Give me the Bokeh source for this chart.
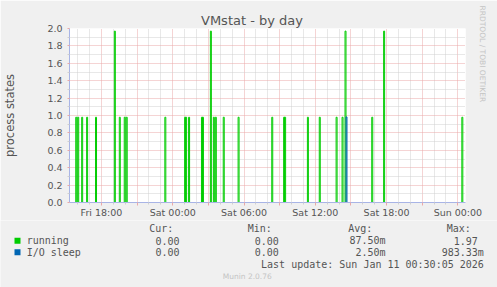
import pandas as pd
from bokeh.plotting import figure
from bokeh.layouts import column, row
from bokeh.models import FixedTicker, Range1d, PrintfTickFormatter, Title
from bokeh.core.properties import value
from bokeh.embed import file_html
from bokeh.resources import INLINE

# ---------------- data ----------------
title_text = "VMstat - by day"
y_label = "process states"
side_text = "RRDTOOL / TOBI OETIKER"
footer_text = "Munin 2.0.76"
last_update = "Last update: Sun Jan 11 00:30:05 2026"

series_names = ["running", "I/O sleep"]
series_colors = ["#00CC00", "#0066B3"]

# 5-minute samples that are not zero (time, value)
running_times = [
    "2026-01-09 15:50", "2026-01-09 16:00", "2026-01-09 16:20", "2026-01-09 16:45",
    "2026-01-09 17:30", "2026-01-09 19:05", "2026-01-09 19:30", "2026-01-09 19:55",
    "2026-01-09 20:05", "2026-01-09 23:20", "2026-01-10 01:00", "2026-01-10 01:05",
    "2026-01-10 01:20", "2026-01-10 02:25", "2026-01-10 02:30", "2026-01-10 03:10",
    "2026-01-10 03:25", "2026-01-10 03:35", "2026-01-10 04:15", "2026-01-10 05:30",
    "2026-01-10 08:20", "2026-01-10 09:20", "2026-01-10 09:25", "2026-01-10 11:20",
    "2026-01-10 12:20", "2026-01-10 13:45", "2026-01-10 14:15", "2026-01-10 14:30",
    "2026-01-10 16:45", "2026-01-10 17:45", "2026-01-11 00:20",
]
running_values = [
    0.98, 0.98, 0.98, 0.98,
    0.98, 1.97, 0.98, 0.98,
    0.98, 0.98, 0.98, 0.98,
    0.98, 0.98, 0.98, 1.97,
    0.98, 0.98, 0.98, 0.98,
    0.98, 0.98, 0.98, 0.98,
    0.98, 0.98, 0.98, 1.97,
    0.98, 1.97, 0.98,
]
io_times = ["2026-01-10 14:35"]
io_values = [0.98333]

x_start = "2026-01-09 15:18:30"
x_end = "2026-01-11 00:38:30"
x_label_times = ["2026-01-09 18:00", "2026-01-10 00:00", "2026-01-10 06:00",
                 "2026-01-10 12:00", "2026-01-10 18:00", "2026-01-11 00:00"]
x_tick_labels = ["Fri 18:00", "Sat 00:00", "Sat 06:00", "Sat 12:00", "Sat 18:00", "Sun 00:00"]
y_ticks = [0.0, 0.2, 0.4, 0.6, 0.8, 1.0, 1.2, 1.4, 1.6, 1.8, 2.0]
y_minor = [0.1, 0.3, 0.5, 0.7, 0.9, 1.1, 1.3, 1.5, 1.7, 1.9]

legend_cur = ["0.00", "0.00"]
legend_min = ["0.00", "0.00"]
legend_avg = ["87.50m", "2.50m"]
legend_max = ["1.97", "983.33m"]

# ---------------- helpers ----------------
def ms(s):
    return int(pd.Timestamp(s).value // 10**6)

STEP = 5 * 60 * 1000

def spikes(times, vals):
    xs, ys = [], []
    for t, v in zip(times, vals):
        t0 = ms(t)
        xs.append([t0, t0, t0 + STEP, t0 + STEP])
        ys.append([0, v, v, 0])
    return xs, ys

FONT = "DejaVu Sans"
MONO = "DejaVu Sans Mono"
TXT = "#555555"
BG = "#F0F0F0"
AXIS = "#A8B4E6"
MGRID = "#EBA8A8"
GRID = "#D0D0D0"

W = 497
MAIN_H = 220
LEG_H = 287 - MAIN_H
L, R, T, B = 67, 30, 28, MAIN_H - 203

p = figure(width=W, height=MAIN_H, x_axis_type="datetime", output_backend="svg",
           toolbar_location=None, x_range=Range1d(ms(x_start), ms(x_end)),
           y_range=Range1d(0, 2.0), min_border_left=L, min_border_right=R,
           min_border_top=T, min_border_bottom=B,
           background_fill_color="white", border_fill_color=BG,
           outline_line_color=None)

# ---- title (above) and side text (right) ----
p.title.text = title_text
p.title.align = "left"
p.title.offset = 198.5 - L
p.title.standoff = 1
p.title.text_font = FONT
p.title.text_font_size = "13px"
p.title.text_font_style = "normal"
p.title.text_color = TXT

p.add_layout(Title(text=side_text, align="left", offset=-23, standoff=21,
                   vertical_align="top",
                   text_font=FONT, text_font_size="7.5px", text_font_style="normal",
                   text_color="#C4C4C4"), "right")

# ---- x axis ----
maj = pd.date_range("2026-01-09 18:00", "2026-01-11 00:00", freq="3h")
minr = pd.date_range("2026-01-09 16:00", "2026-01-11 00:00", freq="1h")
maj_ms = [int(t.value // 10**6) for t in maj]
min_ms = [int(t.value // 10**6) for t in minr if int(t.value // 10**6) not in maj_ms]
lab = {ms(t): s for t, s in zip(x_label_times, x_tick_labels)}
p.xaxis.ticker = FixedTicker(ticks=maj_ms, minor_ticks=min_ms)
p.xaxis.major_label_overrides = {m: lab.get(m, "") for m in maj_ms}
p.xaxis.major_label_text_font = FONT
p.xaxis.major_label_text_font_size = "9.5px"
p.xaxis.major_label_text_color = TXT
p.xaxis.major_label_standoff = 1
p.xaxis.axis_line_color = AXIS
p.xaxis.major_tick_line_color = MGRID
p.xaxis.major_tick_out = 3
p.xaxis.major_tick_in = 0
p.xaxis.minor_tick_line_color = GRID
p.xaxis.minor_tick_out = 2
p.xaxis.minor_tick_in = 0

# ---- y axis ----
p.yaxis.ticker = FixedTicker(ticks=y_ticks, minor_ticks=y_minor)
p.yaxis.formatter = PrintfTickFormatter(format="%.1f")
p.yaxis.major_label_text_font = FONT
p.yaxis.major_label_text_font_size = "9.5px"
p.yaxis.major_label_text_color = TXT
p.yaxis.major_label_standoff = 5
p.yaxis.axis_line_color = AXIS
p.yaxis.major_tick_line_color = MGRID
p.yaxis.major_tick_out = 2
p.yaxis.major_tick_in = 0
p.yaxis.minor_tick_line_color = GRID
p.yaxis.minor_tick_out = 2
p.yaxis.minor_tick_in = 0
p.yaxis.axis_label = y_label
p.yaxis.axis_label_text_font = FONT
p.yaxis.axis_label_text_font_size = "11.5px"
p.yaxis.axis_label_text_font_style = "normal"
p.yaxis.axis_label_text_color = TXT
p.yaxis.axis_label_standoff = 27

# ---- grids ----
for g in (p.xgrid, p.ygrid):
    g.grid_line_color = MGRID
    g.grid_line_dash = "1 1"
    g.minor_grid_line_color = GRID
    g.minor_grid_line_dash = "1 1"

# ---- series ----
xs, ys = spikes(running_times, running_values)
p.multi_line(xs, ys, line_color=series_colors[0], line_width=1)
xs, ys = spikes(io_times, io_values)
p.multi_line(xs, ys, line_color=series_colors[1], line_width=1)

# ---------------- legend figure ----------------
q = figure(width=W, height=LEG_H, output_backend="svg", toolbar_location=None,
           x_range=Range1d(0, W), y_range=Range1d(287, MAIN_H),
           min_border=0, min_border_left=0, min_border_right=0,
           min_border_top=0, min_border_bottom=0,
           background_fill_color=BG, border_fill_color=BG,
           outline_line_color=None, x_axis_location=None, y_axis_location=None)
q.title = None
q.xgrid.visible = False
q.ygrid.visible = False

row_y = [240.2, 251.8]
head_y = 227.8
CH = 6.02
q.rect(x=[17, 17], y=row_y, width=6, height=6, fill_color=series_colors,
       line_color=None)
mono = dict(text_font=value(MONO), text_font_size="10px", text_color=TXT,
            text_baseline="middle")
q.text(x=[26.2, 26.2], y=row_y, text=series_names, text_align="left", **mono)
q.text(x=[148.8, 247.2, 347.8, 446.2], y=[head_y] * 4,
       text=["Cur:", "Min:", "Avg:", "Max:"], text_align="left", **mono)

cols = [(185.0, legend_cur), (284.4, legend_min), (385.0, legend_avg), (483.3, legend_max)]
for right, vals in cols:
    xr = [right - (0 if v.endswith("m") else CH) for v in vals]
    q.text(x=xr, y=row_y, text=vals, text_align="right", **mono)

q.text(x=[483.3], y=[263.6], text=[last_update], text_align="right", **mono)
q.text(x=[222.2], y=[276.3], text=[footer_text], text_align="left",
       text_font=value(FONT), text_font_size="7.5px", text_color="#C4C4C4",
       text_baseline="middle")

layout = column(row(p, spacing=0), row(q, spacing=0), spacing=0)
open("out.html", "w").write(file_html(layout, INLINE))
